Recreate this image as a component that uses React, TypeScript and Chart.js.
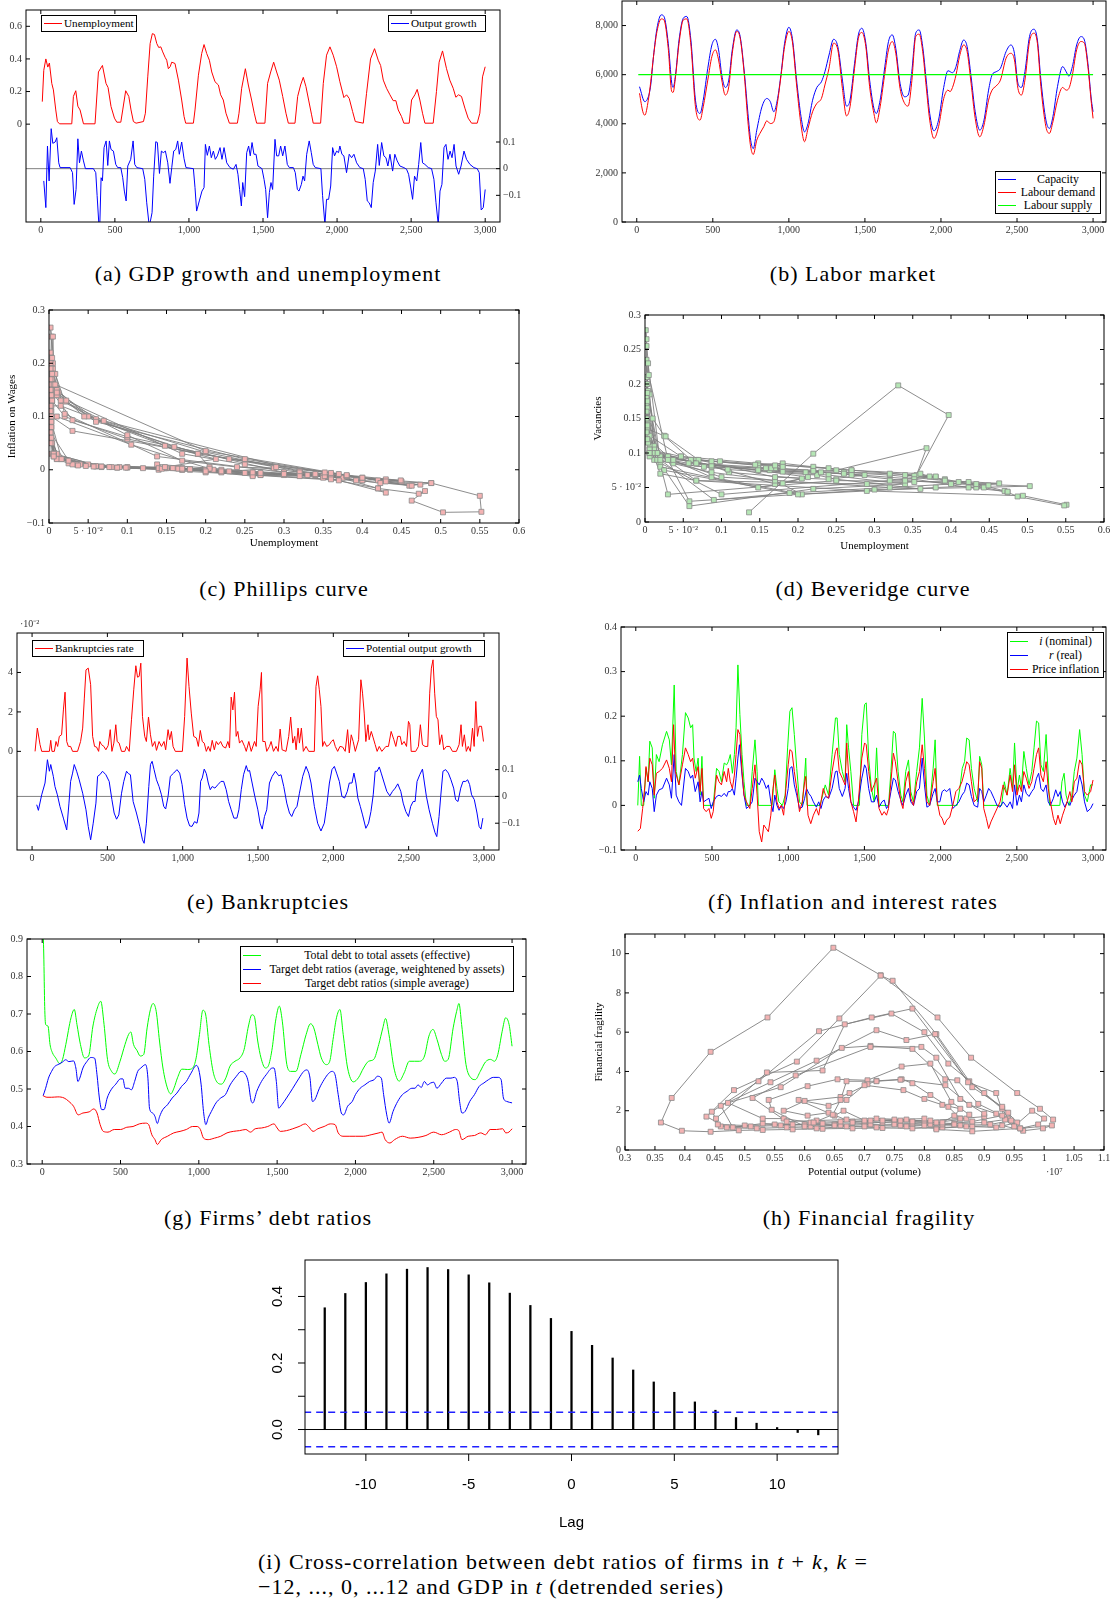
import React, { useEffect, useRef } from 'react';
import { Chart, registerables } from 'chart.js';
Chart.register(...registerables);

const SERIF = 'Liberation Serif';
const SANS = 'Liberation Sans';
const RED = '#ff0000';
const BLUE = '#0000ff';
const GREEN = '#00ff00';
const GREY = '#808080';
const TXT = '#333333';

// ---------- tick values ----------
const T_TICKS = [0, 500, 1000, 1500, 2000, 2500, 3000];
const A_YL_TICKS = [0, 0.2, 0.4, 0.6];
const A_YR_TICKS = [-0.1, 0, 0.1];
const B_Y_TICKS = [0, 2000, 4000, 6000, 8000];
const U_TICKS = [0, 0.05, 0.1, 0.15, 0.2, 0.25, 0.3, 0.35, 0.4, 0.45, 0.5, 0.55, 0.6];
const C_Y_TICKS = [-0.1, 0, 0.1, 0.2, 0.3];
const D_Y_TICKS = [0, 0.05, 0.1, 0.15, 0.2, 0.25, 0.3];
const E_YL_TICKS = [0, 2, 4];
const E_YR_TICKS = [-0.1, 0, 0.1];
const F_Y_TICKS = [-0.1, 0, 0.1, 0.2, 0.3, 0.4];
const G_Y_TICKS = [0.3, 0.4, 0.5, 0.6, 0.7, 0.8, 0.9];
const H_X_TICKS = [0.3, 0.35, 0.4, 0.45, 0.5, 0.55, 0.6, 0.65, 0.7, 0.75, 0.8, 0.85, 0.9, 0.95, 1, 1.05, 1.1];
const H_Y_TICKS = [0, 2, 4, 6, 8, 10];
const I_X_TICKS = [-10, -5, 0, 5, 10];
const I_Y_TICKS = [0, 0.1, 0.2, 0.3, 0.4];
const I_Y_LABELS = [0, 0.2, 0.4];

// ---------- (a) GDP growth and unemployment ----------
const A_UNEMP = [[10,0.138],[20,0.33],[34,0.40],[47,0.35],[58,0.375],[74,0.25],[85,0.21],[101,0.087],[112,0.016],[126,0.002],[209,0.002],[220,0.17],[236,0.205],[250,0.11],[265,0.087],[288,0.002],[366,0.002],[389,0.32],[416,0.36],[440,0.25],[454,0.225],[474,0.108],[497,0.037],[513,0.012],[540,0.012],[553,0.087],[573,0.205],[594,0.17],[609,0.087],[625,0.016],[643,0.006],[693,0.016],[706,0.067],[722,0.29],[738,0.494],[753,0.555],[767,0.55],[783,0.494],[796,0.47],[810,0.474],[823,0.443],[839,0.41],[850,0.392],[861,0.34],[873,0.352],[884,0.38],[906,0.372],[929,0.27],[951,0.148],[967,0.047],[978,0.006],[1030,0.006],[1041,0.087],[1064,0.30],[1086,0.433],[1102,0.488],[1120,0.433],[1138,0.392],[1154,0.32],[1176,0.26],[1199,0.24],[1214,0.18],[1232,0.148],[1250,0.067],[1273,0.006],[1327,0.006],[1338,0.067],[1356,0.22],[1381,0.34],[1401,0.24],[1423,0.148],[1441,0.067],[1457,0.006],[1513,0.006],[1531,0.25],[1552,0.32],[1572,0.38],[1592,0.32],[1610,0.27],[1633,0.17],[1655,0.067],[1671,0.006],[1716,0.006],[1734,0.17],[1754,0.24],[1772,0.287],[1790,0.23],[1808,0.148],[1828,0.057],[1839,0.006],[1889,0.006],[1907,0.25],[1929,0.423],[1952,0.474],[1974,0.423],[1997,0.352],[2019,0.26],[2046,0.163],[2064,0.18],[2082,0.158],[2105,0.077],[2123,0.016],[2177,0.006],[2199,0.189],[2226,0.40],[2253,0.463],[2278,0.392],[2294,0.36],[2312,0.27],[2334,0.22],[2357,0.18],[2379,0.144],[2397,0.144],[2413,0.087],[2435,0.047],[2451,0.006],[2487,0.006],[2503,0.148],[2525,0.18],[2541,0.213],[2559,0.148],[2577,0.067],[2593,0.006],[2649,0.006],[2671,0.2],[2689,0.38],[2712,0.449],[2739,0.34],[2761,0.27],[2784,0.22],[2802,0.165],[2820,0.18],[2840,0.17],[2863,0.098],[2885,0.037],[2908,0.006],[2946,0.006],[2964,0.067],[2982,0.29],[3000,0.352]];
const A_GROWTH = [[20,-0.046],[34,-0.146],[45,0.085],[56,-0.046],[70,0.15],[81,0.095],[97,0.1],[108,0.116],[121,0.022],[130,0.004],[198,0.004],[214,-0.015],[225,-0.134],[238,-0.078],[250,0.112],[261,0.022],[274,0.066],[288,0.029],[301,0],[355,0],[371,-0.015],[380,-0.1],[391,-0.2],[398,-0.215],[407,-0.034],[416,-0.046],[427,0.079],[441,0.104],[452,0.012],[463,0.104],[474,0.072],[490,0.066],[506,0.016],[519,0.004],[540,0.004],[553,-0.034],[564,-0.084],[576,-0.121],[587,0.01],[607,0.035],[623,0.104],[634,0.016],[648,0.004],[688,0],[702,-0.04],[715,-0.128],[731,-0.21],[740,-0.196],[751,-0.165],[762,-0.028],[776,0.101],[787,0.098],[801,-0.018],[814,0.066],[827,0.06],[841,0.066],[857,0.022],[872,-0.055],[884,0.004],[897,0.066],[911,0.072],[924,0.104],[935,0.054],[951,0.1],[967,0.037],[980,0.004],[1030,0],[1041,-0.071],[1052,-0.159],[1070,-0.121],[1088,-0.084],[1102,-0.071],[1111,0.091],[1124,0.05],[1138,0.085],[1151,0.041],[1165,0.066],[1178,0.035],[1192,0.048],[1210,0.079],[1223,0.035],[1237,0.079],[1255,0.022],[1277,0.004],[1300,-0.002],[1318,0.016],[1331,-0.021],[1342,-0.078],[1354,-0.14],[1363,-0.052],[1376,-0.105],[1390,0.06],[1403,0.085],[1414,0.048],[1426,0.098],[1439,0.054],[1453,0.054],[1466,0.01],[1493,0],[1507,-0.04],[1518,-0.078],[1531,-0.184],[1543,-0.09],[1554,-0.052],[1565,-0.078],[1581,0.11],[1592,0.048],[1606,0.048],[1619,0.085],[1633,0.048],[1648,0.085],[1664,0.016],[1678,0.004],[1705,0.004],[1718,-0.015],[1732,-0.078],[1743,-0.084],[1759,-0.059],[1770,-0.028],[1781,-0.046],[1795,0.054],[1812,0.104],[1826,0.06],[1839,0.016],[1853,0.004],[1891,0],[1902,-0.1],[1918,-0.21],[1929,-0.115],[1943,-0.115],[1957,-0.065],[1970,0.079],[1983,0.048],[1997,0.066],[2010,0.06],[2019,0.085],[2033,0.054],[2046,0.048],[2064,-0.015],[2082,0.054],[2098,0.041],[2114,0.054],[2132,0.022],[2154,0.004],[2177,0],[2190,-0.04],[2204,-0.121],[2217,-0.128],[2231,-0.146],[2244,-0.052],[2258,-0.009],[2274,0.091],[2285,0.012],[2301,0.098],[2316,0.048],[2330,0.041],[2343,0.01],[2357,0.054],[2375,-0.009],[2390,0.054],[2406,0.029],[2424,0.01],[2451,0.004],[2469,-0.002],[2483,-0.021],[2496,-0.065],[2510,-0.115],[2523,-0.028],[2538,-0.046],[2551,0.016],[2565,0.098],[2577,0.022],[2593,0.016],[2616,0.004],[2638,0],[2654,-0.04],[2668,-0.128],[2683,-0.21],[2695,-0.084],[2708,-0.059],[2722,0.079],[2735,0.091],[2749,0.035],[2763,0.066],[2776,0.041],[2790,0.091],[2803,0.01],[2821,-0.021],[2837,0.01],[2857,0.066],[2874,0.035],[2897,0.016],[2924,0.004],[2946,0],[2960,-0.015],[2973,-0.155],[2987,-0.146],[3000,-0.078]];

// ---------- (b) Labor market ----------
const B_CAP = [[18,5510],[53,4900],[76,5100],[92,5580],[110,6740],[133,7890],[161,8435],[179,8370],[207,7280],[230,5650],[239,5480],[255,5990],[278,7410],[306,8300],[329,8370],[356,7410],[386,4960],[416,4420],[437,4960],[467,6260],[494,7210],[517,7440],[538,7010],[559,5990],[582,5480],[605,5780],[628,7010],[657,7820],[680,7550],[708,6050],[731,4420],[749,3330],[766,2990],[789,3740],[823,4690],[855,5030],[878,4900],[901,4490],[926,5030],[949,6050],[972,7280],[1000,7930],[1023,7480],[1053,5650],[1080,4290],[1103,3670],[1126,4010],[1156,4960],[1184,5480],[1214,5710],[1237,6120],[1264,6800],[1294,7440],[1322,7140],[1352,5780],[1379,4720],[1402,4960],[1432,6460],[1457,7620],[1480,7890],[1506,7280],[1531,5780],[1559,4630],[1575,4420],[1600,4960],[1628,6190],[1655,7350],[1680,7620],[1703,7070],[1731,5650],[1761,5100],[1784,5170],[1807,6050],[1834,7690],[1857,7820],[1880,7140],[1903,5780],[1926,4420],[1954,3710],[1984,4150],[2018,5480],[2046,6160],[2076,6080],[2099,6330],[2122,6940],[2149,7410],[2172,7140],[2198,5920],[2225,4490],[2255,3740],[2283,4150],[2313,5370],[2336,5990],[2363,6120],[2391,6260],[2428,6940],[2460,7210],[2483,6870],[2506,5650],[2529,5480],[2552,6120],[2582,7550],[2612,7850],[2634,7410],[2657,5780],[2690,4150],[2713,3810],[2736,4290],[2766,5510],[2800,6330],[2823,6120],[2841,5940],[2864,6330],[2892,7210],[2920,7550],[2943,7410],[2966,6460],[2989,4960],[3000,4490]];
const B_DEM = [[18,5240],[40,4490],[53,4350],[76,4960],[92,5710],[110,6740],[133,7760],[161,8270],[179,8230],[207,7070],[230,5310],[239,5280],[255,5920],[278,7280],[306,8230],[329,8270],[356,7210],[386,4690],[416,4150],[437,4690],[467,5780],[494,6740],[517,7010],[538,6600],[559,5780],[582,5170],[605,5510],[628,6870],[657,7760],[680,7480],[708,5920],[731,4080],[749,3060],[766,2750],[789,3330],[810,3610],[835,3880],[855,4120],[878,4010],[901,4080],[926,4900],[949,5990],[972,7140],[1000,7760],[1023,7350],[1053,5440],[1080,3950],[1103,3270],[1126,3810],[1156,4490],[1184,4830],[1214,5030],[1237,5580],[1264,6260],[1294,7280],[1322,7010],[1352,5440],[1379,4320],[1402,4690],[1432,6260],[1457,7480],[1480,7720],[1506,7140],[1531,5510],[1559,4420],[1575,4040],[1600,4690],[1628,5920],[1655,7010],[1680,7350],[1703,6870],[1731,5440],[1761,4830],[1784,4720],[1807,5650],[1834,7550],[1857,7650],[1880,6940],[1903,5510],[1926,4150],[1954,3400],[1984,3880],[2018,5030],[2046,5370],[2060,5310],[2076,5480],[2099,5990],[2122,6740],[2149,7210],[2172,6940],[2198,5650],[2225,4220],[2255,3470],[2283,3950],[2313,4960],[2336,5370],[2363,5540],[2391,5780],[2428,6670],[2460,6870],[2483,6600],[2506,5440],[2529,5170],[2552,5780],[2582,7350],[2612,7690],[2634,7280],[2657,5510],[2690,3880],[2713,3610],[2736,4080],[2766,4960],[2800,5480],[2823,5370],[2841,5440],[2864,5990],[2892,7010],[2920,7350],[2943,7280],[2966,6330],[2989,4830],[3000,4220]];
const B_SUP = [[10,6000],[3000,6000]];

// ---------- (c) Phillips curve: [unemployment, wage inflation] ----------
const C_PHIL = [[0.138,0.01],[0.33,-0.01],[0.4,-0.02],[0.35,-0.012],[0.375,-0.015],[0.25,-0.006],[0.21,0.0],[0.087,0.004],[0.016,0.02],[0.003,0.03],[0.002,0.06],[0.003,0.1],[0.002,0.14],[0.004,0.17],[0.003,0.195],[0.006,0.18],
[0.012,0.145],[0.06,0.095],[0.16,0.043],[0.3,-0.005],[0.4,-0.02],[0.43,-0.018],[0.45,-0.022],[0.38,-0.012],[0.3,-0.01],[0.2,0.0],[0.12,0.003],[0.06,0.006],[0.025,0.012],[0.01,0.02],
[0.003,0.05],[0.002,0.1],[0.004,0.13],[0.02,0.1],[0.1,0.058],[0.19,0.03],[0.205,0.005],[0.17,0.0],[0.1,0.004],[0.04,0.01],[0.012,0.025],
[0.002,0.06],[0.003,0.11],[0.002,0.15],[0.005,0.19],[0.002,0.22],[0.008,0.18],[0.02,0.128],[0.07,0.092],[0.32,-0.003],[0.36,-0.01],[0.42,-0.035],[0.43,-0.043],[0.37,-0.02],[0.26,-0.01],[0.2,-0.005],[0.14,0.0],[0.08,0.005],[0.035,0.01],[0.015,0.02],
[0.004,0.05],[0.003,0.09],[0.01,0.1],[0.105,0.047],[0.205,0.002],[0.17,0.003],[0.09,0.005],[0.03,0.01],[0.01,0.03],
[0.002,0.07],[0.003,0.13],[0.002,0.18],[0.003,0.25],[0.002,0.267],[0.005,0.2],[0.02,0.105],[0.138,0.025],[0.3,-0.005],[0.488,-0.025],[0.55,-0.049],[0.552,-0.079],[0.503,-0.08],[0.463,-0.058],[0.48,-0.04],[0.472,-0.045],[0.42,-0.035],[0.35,-0.015],[0.38,-0.012],[0.37,-0.008],[0.34,-0.01],[0.27,-0.008],[0.15,0.003],[0.05,0.01],[0.006,0.025],
[0.003,0.08],[0.002,0.14],[0.005,0.25],[0.007,0.14],[0.03,0.093],[0.1,0.062],[0.23,0.02],[0.36,-0.006],[0.43,-0.022],[0.488,-0.025],[0.46,-0.03],[0.4,-0.015],[0.32,-0.003],[0.26,-0.012],[0.2,-0.003],[0.14,0.003],[0.1,0.005],[0.06,0.007],[0.025,0.017],
[0.002,0.07],[0.003,0.12],[0.002,0.16],[0.01,0.15],[0.05,0.1],[0.2,0.033],[0.34,-0.01],[0.3,-0.008],[0.22,0.0],[0.148,0.003],[0.067,0.006],[0.006,0.03],
[0.002,0.05],[0.004,0.13],[0.002,0.2],[0.006,0.16],[0.022,0.13],[0.17,0.03],[0.25,0.01],[0.32,-0.005],[0.38,-0.012],[0.32,-0.012],[0.27,-0.01],[0.17,0.0],[0.067,0.005],[0.01,0.02],
[0.003,0.06],[0.002,0.11],[0.003,0.15],[0.015,0.13],[0.1,0.065],[0.17,0.017],[0.24,0.005],[0.287,0.003],[0.23,-0.003],[0.148,0.003],[0.057,0.006],[0.006,0.03],
[0.002,0.08],[0.003,0.14],[0.002,0.19],[0.004,0.21],[0.01,0.14],[0.06,0.09],[0.25,0.02],[0.42,-0.02],[0.474,-0.028],[0.423,-0.025],[0.352,-0.012],[0.26,-0.005],[0.163,0.003],[0.18,0.001],[0.158,0.003],[0.077,0.005],[0.016,0.02],
[0.003,0.09],[0.002,0.15],[0.004,0.18],[0.01,0.145],[0.045,0.1],[0.19,0.03],[0.4,-0.015],[0.463,-0.03],[0.392,-0.02],[0.36,-0.018],[0.27,-0.01],[0.22,-0.005],[0.18,0.0],[0.144,0.002],[0.087,0.004],[0.047,0.007],[0.006,0.028],
[0.003,0.08],[0.002,0.12],[0.015,0.12],[0.148,0.045],[0.213,0.02],[0.148,0.005],[0.067,0.006],[0.006,0.03],
[0.002,0.07],[0.003,0.14],[0.002,0.17],[0.008,0.16],[0.2,0.035],[0.38,-0.01],[0.449,-0.02],[0.34,-0.008],[0.27,-0.006],[0.22,-0.003],[0.165,0.002],[0.18,0.001],[0.17,0.002],[0.098,0.004],[0.037,0.008],[0.006,0.025],
[0.003,0.06],[0.003,0.1],[0.03,0.073],[0.29,0.005],[0.352,-0.005]];

// ---------- (d) Beveridge curve: [unemployment, vacancies] ----------
const D_BEV = [[0.136,0.014],[0.22,0.099],[0.331,0.198],[0.397,0.155],[0.355,0.068],[0.368,0.107],[0.25,0.075],[0.21,0.072],[0.087,0.08],[0.016,0.1],[0.004,0.125],[0.002,0.17],[0.003,0.21],[0.002,0.235],[0.004,0.19],
[0.01,0.15],[0.025,0.125],[0.06,0.09],[0.17,0.055],[0.205,0.063],[0.11,0.072],[0.087,0.082],[0.03,0.095],[0.005,0.12],[0.003,0.165],[0.006,0.185],
[0.012,0.11],[0.02,0.095],[0.1,0.065],[0.32,0.05],[0.36,0.048],[0.25,0.062],[0.225,0.068],[0.108,0.076],[0.037,0.085],[0.012,0.105],[0.004,0.14],[0.002,0.18],
[0.015,0.1],[0.087,0.065],[0.205,0.04],[0.17,0.06],[0.087,0.072],[0.016,0.09],[0.006,0.11],[0.003,0.145],[0.002,0.2],
[0.016,0.1],[0.067,0.06],[0.29,0.045],[0.494,0.038],[0.551,0.025],[0.548,0.024],[0.487,0.037],[0.47,0.045],[0.474,0.043],[0.443,0.05],[0.41,0.058],[0.392,0.062],[0.34,0.068],[0.352,0.067],[0.38,0.065],[0.372,0.066],[0.27,0.075],[0.148,0.085],[0.047,0.095],[0.006,0.125],[0.002,0.21],[0.002,0.255],[0.001,0.278],[0.002,0.265],[0.005,0.213],
[0.03,0.09],[0.058,0.03],[0.3,0.047],[0.433,0.05],[0.503,0.052],[0.433,0.055],[0.392,0.06],[0.32,0.068],[0.26,0.072],[0.24,0.078],[0.18,0.082],[0.148,0.082],[0.067,0.09],[0.006,0.1],[0.002,0.15],[0.003,0.2],[0.004,0.23],
[0.02,0.085],[0.058,0.023],[0.22,0.048],[0.34,0.055],[0.24,0.068],[0.148,0.075],[0.067,0.085],[0.006,0.105],[0.002,0.14],[0.003,0.175],
[0.012,0.09],[0.1,0.04],[0.32,0.06],[0.38,0.066],[0.32,0.07],[0.27,0.072],[0.17,0.078],[0.067,0.085],[0.01,0.1],[0.003,0.135],
[0.027,0.124],[0.07,0.09],[0.17,0.065],[0.24,0.062],[0.287,0.068],[0.23,0.072],[0.148,0.078],[0.057,0.085],[0.006,0.095],[0.003,0.12],[0.002,0.16],
[0.03,0.04],[0.25,0.06],[0.423,0.058],[0.474,0.044],[0.423,0.05],[0.352,0.062],[0.26,0.07],[0.163,0.075],[0.18,0.073],[0.158,0.078],[0.077,0.08],[0.016,0.09],[0.004,0.115],[0.002,0.15],[0.003,0.187],
[0.02,0.09],[0.09,0.032],[0.189,0.042],[0.4,0.055],[0.463,0.056],[0.392,0.06],[0.36,0.07],[0.27,0.075],[0.22,0.08],[0.18,0.085],[0.144,0.083],[0.087,0.088],[0.047,0.095],[0.006,0.105],[0.003,0.14],
[0.02,0.08],[0.148,0.05],[0.18,0.056],[0.213,0.065],[0.148,0.075],[0.067,0.085],[0.006,0.1],[0.002,0.13],
[0.025,0.075],[0.2,0.04],[0.38,0.05],[0.449,0.053],[0.34,0.06],[0.27,0.068],[0.22,0.074],[0.165,0.078],[0.18,0.08],[0.17,0.082],[0.098,0.088],[0.037,0.09],[0.006,0.1],[0.003,0.12],
[0.02,0.07],[0.067,0.06],[0.29,0.055],[0.352,0.058]];

// ---------- (e) Bankruptcies ----------
const E_BANK = [[20,0],[35,1.18],[53,0.34],[64,0],[115,0],[124,0.56],[132,0],[148,0],[159,0.5],[170,0.25],[181,0.76],[196,0.84],[208,2.1],[219,3.0],[230,0.5],[241,0.25],[256,0.25],[269,0],[302,0],[322,0.5],[336,1.18],[347,2.7],[358,4.13],[373,4.22],[389,3.38],[402,0.76],[415,0.25],[428,0.22],[442,0],[450,0.5],[461,0.34],[477,0.25],[490,0.08],[505,0.29],[519,1.1],[530,0],[543,0.42],[556,1.35],[565,0.5],[578,0.42],[594,0],[616,0],[627,0.25],[645,0],[660,1.6],[675,3.12],[689,4.34],[700,3.76],[711,3.8],[722,4.47],[733,1.77],[748,0.76],[759,0.5],[773,1.74],[786,0.84],[799,0.25],[815,0.5],[826,0.05],[843,0.5],[859,0.25],[876,0.5],[887,0.08],[903,1.1],[914,0.59],[925,1.01],[936,0.25],[951,0],[998,0],[1013,1.77],[1029,4.73],[1042,3.29],[1057,1.94],[1073,0.76],[1091,0.68],[1104,0.25],[1117,1.06],[1130,0.5],[1143,0.42],[1157,0],[1170,0.25],[1183,0],[1196,0.56],[1210,0.08],[1223,0.5],[1236,0.34],[1252,0.5],[1267,0.25],[1285,0.17],[1300,0.5],[1311,0.17],[1322,2.75],[1333,2.1],[1344,3.0],[1355,0.76],[1366,1.01],[1377,0.42],[1393,0.56],[1411,0.25],[1422,0],[1439,0.5],[1455,0],[1477,0.5],[1488,0.25],[1501,2.28],[1514,3.12],[1523,4.0],[1532,0.5],[1547,0.5],[1558,0],[1576,0.25],[1587,0.5],[1603,0],[1620,0.25],[1634,0],[1647,1.13],[1660,0.08],[1686,0],[1704,0.76],[1717,1.74],[1731,0.42],[1744,0.76],[1753,0.08],[1766,1.18],[1775,0.42],[1788,1.18],[1801,0],[1819,0.25],[1837,0],[1874,0],[1885,3.29],[1896,3.83],[1907,3.12],[1918,2.28],[1929,0.25],[1940,0.5],[1956,0.25],[1974,0.34],[1987,0.5],[2000,0.59],[2013,0.25],[2029,0],[2044,0.25],[2062,0.22],[2079,0],[2095,1.1],[2106,-0.08],[2119,0.84],[2132,0.5],[2146,0],[2168,0.59],[2183,3.63],[2194,2.95],[2205,1.94],[2216,0.5],[2230,1.35],[2238,0.59],[2252,1.01],[2265,0.68],[2278,0.34],[2291,0],[2305,0.25],[2322,0],[2349,0.25],[2366,0.25],[2384,1.01],[2402,0.59],[2415,0.25],[2428,0.76],[2444,0.76],[2455,0.34],[2470,0.5],[2486,0.25],[2499,1.52],[2508,1.35],[2517,0],[2547,0],[2565,0.25],[2578,1.35],[2592,0.34],[2609,0.25],[2627,0.25],[2640,2.95],[2651,4.22],[2662,4.64],[2673,2.95],[2684,1.77],[2695,1.6],[2706,0.34],[2720,0.84],[2733,0.08],[2751,0.25],[2773,0.25],[2791,0],[2817,0],[2835,0.34],[2848,1.35],[2857,0.25],[2870,0.84],[2883,0],[2896,0.25],[2910,0],[2924,1.18],[2935,0.25],[2946,2.53],[2957,0.76],[2968,1.27],[2984,1.27],[2997,0.5]];
const E_POT = [[31,-0.031],[42,-0.052],[64,0.006],[86,0.05],[102,0.137],[115,0.094],[124,0.119],[141,0.075],[152,0.037],[168,0.006],[185,-0.037],[208,-0.081],[230,-0.125],[245,-0.025],[256,0.056],[269,0.087],[280,0.119],[296,0.094],[313,0.062],[336,0.012],[358,-0.05],[373,-0.112],[389,-0.162],[406,-0.1],[424,-0.025],[435,0.075],[450,0.081],[468,0.094],[490,0.081],[512,0.056],[530,-0.012],[545,-0.062],[561,-0.085],[576,-0.069],[594,0.012],[609,0.056],[627,0.094],[640,0.085],[653,0.081],[671,-0.019],[693,-0.062],[715,-0.112],[733,-0.162],[744,-0.175],[759,-0.1],[775,0.037],[786,0.119],[797,0.131],[810,0.1],[826,0.062],[843,0.037],[859,0.006],[874,-0.037],[887,-0.047],[903,0],[918,0.075],[940,0.087],[962,0.1],[980,0.087],[996,0.044],[1013,-0.031],[1029,-0.081],[1046,-0.11],[1062,-0.112],[1079,-0.094],[1095,-0.1],[1108,-0.062],[1119,0.056],[1130,0.069],[1143,0.102],[1157,0.085],[1170,0.05],[1183,0.025],[1196,0.037],[1214,0.031],[1234,0.044],[1254,0.056],[1272,0.056],[1289,0.025],[1305,-0.019],[1322,-0.05],[1340,-0.081],[1360,-0.081],[1373,-0.05],[1389,0.025],[1404,0.081],[1422,0.115],[1433,0.094],[1444,0.097],[1461,0.05],[1479,0],[1499,-0.05],[1514,-0.1],[1528,-0.122],[1543,-0.075],[1558,-0.05],[1576,0.05],[1594,0.075],[1616,0.094],[1638,0.077],[1653,0.081],[1671,0.037],[1691,-0.025],[1709,-0.062],[1724,-0.075],[1742,-0.05],[1759,-0.037],[1775,0.012],[1797,0.075],[1819,0.112],[1837,0.087],[1852,0.05],[1874,-0.037],[1896,-0.1],[1918,-0.129],[1940,-0.1],[1956,-0.037],[1974,0.05],[1991,0.1],[2007,0.112],[2022,0.087],[2040,0.056],[2057,0],[2075,-0.006],[2093,0.019],[2106,0.05],[2124,0.05],[2137,0.087],[2150,0.05],[2163,-0.006],[2179,-0.037],[2194,-0.069],[2216,-0.119],[2234,-0.1],[2250,-0.056],[2265,0.006],[2278,0.094],[2291,0.094],[2305,0.11],[2318,0.087],[2338,0.05],[2355,0.019],[2375,0.002],[2393,0.019],[2411,0.031],[2428,0.047],[2448,0.019],[2464,-0.025],[2481,-0.056],[2499,-0.075],[2514,-0.037],[2530,-0.019],[2543,-0.019],[2556,0.056],[2574,0.081],[2592,0.102],[2605,0.05],[2618,0],[2636,-0.05],[2658,-0.1],[2675,-0.135],[2687,-0.15],[2702,-0.075],[2713,0],[2728,0.094],[2746,0.1],[2764,0.087],[2781,0.062],[2799,0.031],[2812,-0.012],[2828,-0.019],[2846,0.031],[2861,0.056],[2879,0.056],[2892,0.062],[2905,0.044],[2918,0.006],[2936,-0.012],[2954,-0.062],[2968,-0.112],[2980,-0.122],[2993,-0.081]];

// ---------- (f) Inflation and interest rates ----------
const F_NOM = [[13,0],[25,0.11],[36,0],[52,0],[67,0.083],[81,0.053],[92,0.144],[108,0.129],[121,0.016],[135,0.114],[153,0.098],[175,0.136],[202,0.166],[220,0.147],[234,0.091],[252,0.27],[265,0.076],[283,0.046],[306,0.114],[326,0.208],[344,0.196],[360,0.174],[373,0.181],[382,0.106],[396,0.076],[409,0.106],[422,0.023],[434,0.11],[445,0],[508,0],[530,0.083],[546,0.076],[562,0.053],[580,0.095],[596,0.091],[607,0.098],[620,0.114],[634,0.072],[647,0.114],[658,0.174],[670,0.315],[683,0.204],[697,0.114],[710,0.053],[726,0],[748,0],[764,0.076],[782,0.147],[796,0.076],[804,0],[894,0],[912,0.08],[926,0.038],[939,0.008],[962,0],[980,0.023],[996,0.129],[1011,0.211],[1025,0.219],[1040,0.159],[1056,0.083],[1074,0.008],[1092,0],[1108,0.068],[1115,0.106],[1124,0],[1209,0],[1243,0.046],[1265,0.023],[1288,0.114],[1310,0.196],[1321,0.196],[1335,0.114],[1355,0.076],[1373,0.053],[1384,0.181],[1396,0.129],[1411,0.076],[1429,0],[1467,0],[1483,0.159],[1501,0.226],[1512,0.23],[1528,0.106],[1546,0.038],[1564,0.008],[1580,0.129],[1596,0],[1658,0],[1674,0.076],[1690,0.166],[1703,0.162],[1721,0.076],[1739,0.023],[1753,0.008],[1771,0.076],[1789,0.102],[1804,0.031],[1822,0.008],[1843,0.076],[1861,0.129],[1879,0.24],[1894,0.151],[1910,0.023],[1928,0],[1951,0.083],[1964,0.147],[1978,0],[2108,0],[2126,0.038],[2142,0.083],[2157,0.098],[2171,0.151],[2187,0.147],[2202,0.083],[2220,0.038],[2243,0.008],[2256,0.11],[2270,0.091],[2283,0],[2400,0],[2418,0.053],[2436,0.023],[2456,0.083],[2472,0.038],[2485,0.14],[2501,0.031],[2517,0.068],[2530,0.038],[2546,0.121],[2562,0.083],[2580,0.046],[2598,0.076],[2613,0.129],[2629,0.189],[2643,0.185],[2658,0.091],[2674,0.076],[2692,0.159],[2706,0.068],[2715,0],[2782,0],[2796,0.053],[2810,0.072],[2823,0.023],[2841,0],[2861,0.023],[2877,0.076],[2894,0.106],[2912,0.17],[2928,0.114],[2944,0.023],[2962,0.008],[2984,0.046],[3000,0.046]];
const F_REAL = [[13,0.053],[25,0.068],[36,0.038],[52,0.008],[67,0.031],[81,0.023],[92,0.053],[108,0.038],[121,-0.014],[135,0.023],[153,0.035],[175,0.038],[202,0.061],[220,0.046],[234,0.016],[252,0.114],[265,0.023],[283,0.008],[300,0],[326,0.083],[344,0.076],[360,0.061],[373,0.068],[390,0.031],[409,0.053],[422,0.008],[434,0.031],[445,0.008],[462,0.012],[480,0.016],[495,-0.007],[508,0.008],[530,0.02],[546,0.023],[562,0.02],[580,0.027],[596,0.02],[607,0.031],[620,0.031],[634,0.038],[647,0.023],[658,0.061],[670,0.106],[680,0.136],[697,0.068],[710,0.023],[726,-0.007],[748,0],[764,0.008],[782,0.061],[796,0.053],[810,0.046],[826,0.061],[840,0.053],[856,0.038],[870,0.046],[886,0.008],[900,-0.014],[912,0.023],[926,0],[940,-0.011],[955,0],[970,-0.007],[985,0.008],[1000,0.038],[1011,0.083],[1025,0.087],[1040,0.046],[1056,0.023],[1074,-0.007],[1092,-0.004],[1108,0.016],[1120,0.038],[1135,0.027],[1150,0.02],[1165,0.008],[1185,-0.004],[1200,0.008],[1215,-0.007],[1230,0.012],[1245,0.02],[1265,0.016],[1288,0.038],[1310,0.076],[1321,0.077],[1335,0.038],[1355,0.02],[1373,0.038],[1384,0.072],[1396,0.038],[1411,0.008],[1429,-0.004],[1445,-0.011],[1460,0.008],[1483,0.061],[1501,0.091],[1512,0.083],[1528,0.038],[1546,0.008],[1564,0.008],[1580,0.023],[1596,-0.004],[1615,0.008],[1630,0.012],[1645,-0.007],[1658,0],[1674,0.031],[1690,0.061],[1703,0.057],[1721,0.031],[1739,0.012],[1753,0],[1771,0.023],[1789,0.038],[1804,0.008],[1822,0],[1843,0.031],[1861,0.038],[1879,0.106],[1894,0.046],[1910,-0.004],[1928,0],[1951,0.027],[1964,0.038],[1978,0.008],[1995,0.008],[2010,0.031],[2025,0.035],[2040,0.031],[2060,0.038],[2080,-0.007],[2100,0],[2120,0.008],[2140,0.023],[2157,0.031],[2171,0.05],[2187,0.046],[2202,0.02],[2220,0],[2243,-0.004],[2256,0.038],[2270,0.031],[2283,0.008],[2300,0.023],[2315,0.038],[2330,0.031],[2350,0.016],[2370,0],[2390,-0.004],[2410,0.008],[2436,-0.004],[2456,0.008],[2472,-0.007],[2485,0.046],[2501,0],[2517,0.023],[2530,0.008],[2546,0.046],[2562,0.027],[2580,0.02],[2598,0.031],[2613,0.038],[2629,0.061],[2643,0.072],[2658,0.038],[2674,0.031],[2692,0.046],[2706,0.008],[2720,0],[2740,0.016],[2755,0.035],[2770,0.02],[2785,0.031],[2800,0.008],[2815,-0.004],[2830,0.008],[2848,0],[2861,0.012],[2877,0.023],[2894,0.031],[2912,0.068],[2928,0.046],[2944,0.008],[2962,-0.014],[2984,-0.007],[3000,0.004]];
const F_INFL = [[13,-0.058],[30,-0.052],[45,-0.007],[60,0.046],[67,0.087],[81,0.053],[92,0.106],[108,0.091],[121,0.023],[135,0.072],[153,0.076],[175,0.083],[202,0.102],[220,0.083],[234,0.053],[248,0.181],[260,0.076],[283,0.046],[306,0.091],[326,0.129],[344,0.114],[360,0.098],[373,0.106],[390,0.061],[409,0.087],[422,0.031],[434,0.083],[445,-0.007],[462,-0.014],[480,-0.007],[495,-0.029],[508,-0.014],[530,0.068],[546,0.053],[562,0.046],[580,0.076],[596,0.053],[607,0.083],[620,0.053],[634,0.038],[647,0.068],[658,0.114],[670,0.17],[683,0.159],[697,0.076],[710,0.023],[726,0.008],[748,-0.007],[764,0.038],[782,0.091],[796,0.023],[810,-0.059],[826,-0.082],[840,-0.044],[856,-0.052],[870,-0.059],[886,-0.022],[900,0.038],[912,0.068],[926,0.008],[940,-0.007],[955,0],[970,-0.022],[985,0.038],[1000,0.091],[1011,0.125],[1025,0.121],[1040,0.076],[1056,0.038],[1074,-0.014],[1092,0.008],[1108,0.053],[1115,0.065],[1130,-0.022],[1148,-0.041],[1165,-0.022],[1185,-0.007],[1200,-0.022],[1215,0.008],[1230,0.038],[1245,0.023],[1265,0.016],[1288,0.076],[1310,0.121],[1321,0.129],[1335,0.076],[1355,0.061],[1373,0.046],[1384,0.14],[1396,0.068],[1411,0.008],[1429,-0.014],[1445,-0.037],[1460,0.008],[1483,0.106],[1501,0.14],[1512,0.136],[1528,0.076],[1546,0.031],[1564,0.046],[1580,0.061],[1596,-0.007],[1615,-0.022],[1630,-0.014],[1645,-0.022],[1658,-0.007],[1674,0.053],[1690,0.117],[1703,0.098],[1721,0.053],[1739,0.008],[1753,-0.007],[1771,0.053],[1789,0.076],[1804,0.016],[1822,0],[1843,0.053],[1861,0.076],[1879,0.136],[1894,0.083],[1910,0.008],[1928,0],[1951,0.053],[1964,0.083],[1978,0.008],[1995,-0.022],[2010,-0.029],[2025,-0.044],[2040,-0.033],[2060,-0.026],[2080,0],[2100,0.031],[2120,0.038],[2140,0.053],[2157,0.076],[2171,0.098],[2187,0.091],[2202,0.053],[2220,0.008],[2243,0.016],[2256,0.098],[2270,0.083],[2283,-0.007],[2300,-0.029],[2315,-0.052],[2330,-0.037],[2350,-0.022],[2370,-0.007],[2390,0.008],[2410,0.046],[2436,0.023],[2456,0.068],[2472,0.031],[2485,0.091],[2501,0.023],[2517,0.046],[2530,0.031],[2546,0.076],[2562,0.061],[2580,0.038],[2598,0.053],[2613,0.083],[2629,0.114],[2643,0.129],[2658,0.068],[2674,0.053],[2692,0.098],[2706,0.038],[2720,0.008],[2740,-0.029],[2755,-0.044],[2770,-0.022],[2785,-0.041],[2800,-0.022],[2815,-0.007],[2830,0.008],[2848,0.031],[2861,0.008],[2877,0.053],[2894,0.061],[2912,0.102],[2928,0.091],[2944,0.031],[2962,0.023],[2984,0.031],[3000,0.057]];

// ---------- (g) Firms' debt ratios ----------
const G_EFF = [[4,0.95],[10,0.86],[16,0.72],[22,0.672],[37,0.668],[50,0.619],[65,0.597],[86,0.583],[114,0.567],[130,0.579],[151,0.619],[184,0.69],[205,0.712],[222,0.672],[244,0.619],[270,0.583],[296,0.588],[324,0.668],[352,0.716],[374,0.734],[395,0.672],[417,0.579],[443,0.547],[464,0.54],[497,0.574],[529,0.619],[551,0.645],[566,0.652],[583,0.619],[605,0.603],[626,0.588],[648,0.592],[670,0.663],[691,0.712],[708,0.728],[728,0.707],[749,0.628],[771,0.556],[799,0.503],[821,0.487],[842,0.503],[864,0.53],[892,0.553],[929,0.552],[961,0.556],[983,0.583],[1004,0.645],[1026,0.71],[1043,0.7],[1065,0.619],[1091,0.547],[1112,0.521],[1145,0.513],[1173,0.53],[1199,0.561],[1231,0.574],[1263,0.583],[1289,0.605],[1317,0.668],[1339,0.698],[1354,0.694],[1376,0.628],[1397,0.583],[1425,0.556],[1447,0.565],[1469,0.61],[1490,0.681],[1514,0.721],[1533,0.681],[1562,0.565],[1587,0.547],[1620,0.547],[1652,0.592],[1685,0.645],[1713,0.674],[1734,0.663],[1760,0.619],[1782,0.583],[1814,0.565],[1836,0.574],[1857,0.632],[1879,0.69],[1901,0.712],[1922,0.645],[1950,0.556],[1987,0.519],[2019,0.53],[2052,0.556],[2084,0.574],[2117,0.579],[2149,0.619],[2175,0.663],[2192,0.688],[2214,0.645],[2246,0.556],[2279,0.521],[2311,0.543],[2344,0.574],[2376,0.574],[2408,0.574],[2441,0.588],[2469,0.641],[2495,0.659],[2521,0.632],[2549,0.592],[2570,0.574],[2592,0.579],[2624,0.663],[2646,0.707],[2661,0.728],[2678,0.672],[2706,0.565],[2737,0.53],[2765,0.525],[2797,0.547],[2830,0.572],[2862,0.579],[2888,0.574],[2909,0.592],[2937,0.654],[2959,0.69],[2981,0.672],[3000,0.614]];
const G_WTD = [[6,0.482],[22,0.502],[40,0.529],[60,0.547],[80,0.56],[100,0.565],[130,0.572],[150,0.578],[170,0.573],[200,0.575],[215,0.556],[228,0.52],[240,0.529],[260,0.556],[285,0.573],[310,0.584],[335,0.582],[350,0.538],[365,0.476],[380,0.445],[395,0.445],[415,0.476],[440,0.498],[470,0.513],[500,0.527],[515,0.527],[530,0.502],[550,0.502],[570,0.498],[590,0.52],[610,0.547],[630,0.556],[660,0.565],[675,0.529],[685,0.449],[705,0.436],[720,0.427],[735,0.408],[750,0.427],[770,0.445],[800,0.458],[830,0.476],[860,0.489],[890,0.507],[920,0.52],[950,0.542],[985,0.563],[1000,0.551],[1015,0.511],[1030,0.44],[1045,0.405],[1060,0.423],[1080,0.44],[1110,0.463],[1140,0.476],[1170,0.485],[1200,0.511],[1240,0.534],[1270,0.547],[1300,0.538],[1315,0.52],[1335,0.467],[1345,0.463],[1370,0.494],[1400,0.52],[1430,0.538],[1470,0.556],[1480,0.556],[1495,0.52],[1510,0.449],[1530,0.458],[1560,0.476],[1600,0.502],[1640,0.529],[1670,0.547],[1690,0.551],[1710,0.529],[1725,0.467],[1740,0.471],[1770,0.502],[1800,0.525],[1830,0.542],[1850,0.547],[1870,0.538],[1890,0.485],[1910,0.436],[1925,0.431],[1950,0.454],[1980,0.467],[2000,0.485],[2030,0.502],[2060,0.511],[2090,0.52],[2120,0.525],[2140,0.534],[2165,0.529],[2180,0.485],[2200,0.431],[2215,0.409],[2240,0.44],[2270,0.467],[2300,0.485],[2330,0.494],[2360,0.502],[2380,0.502],[2400,0.511],[2420,0.504],[2440,0.52],[2460,0.511],[2480,0.516],[2500,0.518],[2520,0.502],[2550,0.516],[2580,0.529],[2610,0.529],[2630,0.531],[2650,0.52],[2665,0.467],[2680,0.436],[2700,0.44],[2730,0.467],[2760,0.485],[2790,0.507],[2820,0.516],[2850,0.525],[2880,0.531],[2910,0.531],[2930,0.525],[2945,0.476],[2965,0.467],[3000,0.463]];
const G_AVG = [[6,0.482],[30,0.478],[60,0.478],[100,0.479],[140,0.476],[170,0.467],[200,0.454],[230,0.431],[260,0.436],[300,0.439],[330,0.447],[350,0.436],[370,0.405],[390,0.387],[420,0.385],[460,0.392],[500,0.392],[540,0.398],[580,0.4],[620,0.407],[660,0.409],[680,0.405],[700,0.378],[720,0.365],[735,0.352],[760,0.365],[800,0.374],[840,0.383],[880,0.387],[920,0.392],[960,0.4],[990,0.4],[1010,0.392],[1030,0.369],[1060,0.365],[1100,0.369],[1140,0.374],[1180,0.383],[1220,0.387],[1260,0.389],[1300,0.392],[1330,0.385],[1360,0.394],[1400,0.396],[1440,0.4],[1480,0.407],[1500,0.396],[1520,0.387],[1560,0.389],[1600,0.394],[1640,0.4],[1680,0.407],[1700,0.4],[1730,0.387],[1760,0.394],[1800,0.4],[1840,0.407],[1870,0.405],[1890,0.383],[1920,0.374],[1960,0.374],[2000,0.374],[2050,0.374],[2100,0.378],[2150,0.383],[2170,0.385],[2190,0.365],[2220,0.356],[2250,0.365],[2300,0.374],[2350,0.369],[2400,0.371],[2450,0.376],[2500,0.385],[2550,0.378],[2600,0.385],[2640,0.392],[2660,0.389],[2680,0.365],[2720,0.374],[2760,0.376],[2800,0.383],[2830,0.378],[2860,0.392],[2900,0.392],[2940,0.394],[2960,0.383],[2980,0.385],[3000,0.394]];

// ---------- (h) Financial fragility: [potential output (x 10^7), fragility] ----------
const H_FRAG = [[1.015,1.55],[0.993,2.1],[0.955,2.9],[0.878,4.7],[0.822,6.75],[0.727,8.9],[0.648,10.3],[0.538,6.75],[0.443,5.0],[0.378,2.65],[0.36,1.4],[0.395,0.98],[0.443,0.93],[0.49,1.0],[0.53,1.02],[0.58,1.05],[0.63,1.08],[0.68,1.1],[0.73,1.12],[0.78,1.1],[0.83,1.15],[0.88,1.2],[0.93,1.25],[0.965,0.98],[0.998,1.1],[1.013,1.25],
[0.96,1.1],[0.94,1.6],[0.93,2.1],[0.875,3.5],[0.82,5.9],[0.747,8.62],[0.727,8.88],[0.658,6.7],[0.587,4.5],[0.482,3.05],[0.436,1.7],[0.47,1.15],[0.52,1.1],[0.57,1.15],[0.62,1.1],[0.67,1.2],[0.72,1.15],[0.77,1.2],[0.82,1.1],[0.87,1.2],[0.92,1.15],
[0.955,1.4],[0.93,2.2],[0.88,3.2],[0.78,7.2],[0.712,6.75],[0.624,6.05],[0.523,3.5],[0.445,1.95],[0.46,1.2],[0.51,1.2],[0.56,1.25],[0.61,1.2],[0.66,1.25],[0.71,1.3],[0.76,1.25],[0.81,1.3],[0.86,1.25],[0.91,1.3],
[0.945,1.5],[0.94,1.9],[0.9,2.9],[0.84,4.4],[0.8,6.0],[0.745,6.95],[0.667,6.4],[0.63,4.05],[0.537,3.95],[0.452,1.6],[0.455,1.3],[0.5,1.25],[0.55,1.3],[0.6,1.3],[0.65,1.3],[0.7,1.35],[0.75,1.45],[0.8,1.4],[0.85,1.35],[0.9,1.4],
[0.935,1.55],[0.92,2.9],[0.873,3.45],[0.818,5.9],[0.77,5.6],[0.72,6.1],[0.62,4.55],[0.543,3.45],[0.46,2.25],[0.48,1.15],[0.53,1.35],[0.58,1.3],[0.63,1.35],[0.68,1.45],[0.73,1.4],[0.78,1.35],[0.83,1.3],[0.88,1.45],
[0.93,1.75],[0.89,2.35],[0.855,3.55],[0.835,3.6],[0.78,5.15],[0.71,5.3],[0.662,5.2],[0.56,3.2],[0.472,2.4],[0.53,1.6],[0.565,1.6],[0.61,1.4],[0.66,1.45],[0.71,1.5],[0.76,1.5],[0.81,1.5],[0.86,1.6],[0.9,1.7],
[0.9,1.85],[0.86,2.6],[0.82,4.7],[0.795,5.25],[0.71,5.25],[0.585,3.8],[0.513,2.65],[0.57,1.45],[0.62,1.5],[0.67,1.55],[0.72,1.6],[0.77,1.55],[0.82,1.4],[0.87,1.6],
[0.875,1.8],[0.845,2.45],[0.81,4.4],[0.762,4.25],[0.705,3.55],[0.655,3.6],[0.605,3.25],[0.54,2.55],[0.545,2.05],[0.6,1.2],[0.65,1.25],[0.7,1.2],[0.75,1.3],[0.8,1.25],[0.85,1.3],
[0.86,1.6],[0.84,2.2],[0.81,2.8],[0.78,3.4],[0.762,3.6],[0.72,3.52],[0.705,3.35],[0.675,2.9],[0.66,2.7],[0.6,2.5],[0.565,2.0],[0.605,1.75],[0.64,1.9],[0.68,1.4],[0.73,1.5],[0.78,1.45],[0.83,1.4],
[0.85,1.75],[0.86,2.1],[0.83,2.3],[0.8,2.6],[0.765,3.05],[0.7,3.3],[0.67,2.55],[0.64,2.25],[0.59,2.55],[0.65,1.75],[0.665,2.0],[0.7,1.5],[0.75,1.55],[0.8,1.6],
[0.82,1.05],[0.88,0.95],[0.96,1.1],[0.99,1.3],[1.0,1.6],[0.98,2.0],[0.95,1.2],[0.92,1.85],[0.875,2.3],[0.835,3.3],[0.76,3.58],[0.72,3.5],[0.67,3.5],[0.66,2.55],[0.647,1.8],[0.615,1.4]];

// ---------- (i) Cross-correlation ----------
const I_LAGS = [-12,-11,-10,-9,-8,-7,-6,-5,-4,-3,-2,-1,0,1,2,3,4,5,6,7,8,9,10,11,12];
const I_CCF = [0.366,0.409,0.442,0.468,0.482,0.487,0.481,0.465,0.441,0.41,0.373,0.334,0.295,0.253,0.215,0.179,0.143,0.112,0.083,0.058,0.036,0.019,0.006,-0.009,-0.016];
const I_CI = 0.052;

// ---------- helpers ----------
const P = (a: number[][]) => a.map(([x, y]) => ({ x, y }));
const thousands = (v: number) => Math.round(v).toLocaleString('en-US');
const dec = (v: number) => String(parseFloat(Number(v).toFixed(4))).replace('-', '\u2212');
const sci = (v: number) => (Math.abs(v - 0.05) < 1e-9 ? '5 \u00b7 10\u207b\u00b2' : dec(v));

type Fr = { L: number; T: number; R: number; B: number; lw: number; rw: number; pt: number; bh: number };
const boxOf = (f: Fr) => ({ l: f.L - f.lw, t: f.T - f.pt, w: f.R - f.L + f.lw + f.rw, h: f.B - f.T + f.pt + f.bh });

function framePlugin(o: any) {
  return {
    id: 'frame',
    afterDatasetsDraw(chart: any) {
      const { ctx, chartArea: a } = chart;
      ctx.save();
      ctx.strokeStyle = '#000';
      ctx.lineWidth = o.lw || 1;
      ctx.strokeRect(a.left, a.top, a.right - a.left, a.bottom - a.top);
      for (const m of o.marks || []) {
        const sc = chart.scales[m.scale];
        const vals: number[] = m.values || sc.ticks.map((t: any) => t.value);
        const len = m.len;
        ctx.beginPath();
        for (const v of vals) {
          const p = sc.getPixelForValue(v);
          if (m.side === 'bottom') { ctx.moveTo(p, a.bottom); ctx.lineTo(p, a.bottom + (m.out ? len : -len)); }
          if (m.side === 'top') { ctx.moveTo(p, a.top); ctx.lineTo(p, a.top + len); }
          if (m.side === 'left') { ctx.moveTo(a.left, p); ctx.lineTo(a.left + (m.out ? -len : len), p); }
          if (m.side === 'right') { ctx.moveTo(a.right, p); ctx.lineTo(a.right - len, p); }
        }
        ctx.stroke();
      }
      if (o.rot) {
        const r = o.rot;
        const sc = chart.scales[r.scale];
        ctx.fillStyle = r.color;
        ctx.font = r.font;
        ctx.textAlign = 'center';
        ctx.textBaseline = 'middle';
        r.values.forEach((v: number, i: number) => {
          const p = sc.getPixelForValue(v);
          ctx.save();
          ctx.translate(a.left - r.offset, p);
          ctx.rotate(-Math.PI / 2);
          ctx.fillText(r.labels[i], 0, 0);
          ctx.restore();
        });
      }
      ctx.restore();
    },
  };
}

const tickFont = { family: SERIF, size: 10 };

function xAx(f: Fr, min: number, max: number, ticks: number[], fmt: (v: number) => string, title?: any) {
  const o: any = {
    type: 'linear', position: 'bottom', min, max,
    grid: { display: false, drawTicks: false }, border: { display: false },
    ticks: { font: tickFont, color: TXT, padding: 2, maxRotation: 0, minRotation: 0, autoSkip: false, callback: (v: number) => fmt(v) },
    afterBuildTicks: (s: any) => { s.ticks = ticks.map((value) => ({ value })); },
    afterFit: (s: any) => { s.height = f.bh; },
  };
  if (title) o.title = { display: true, text: title.text, font: { family: SERIF, size: 11 }, color: '#000', padding: { top: 0, bottom: title.pb } };
  return o;
}

function yAx(f: Fr, pos: string, min: number, max: number, ticks: number[], fmt: (v: number) => string, title?: any) {
  const o: any = {
    type: 'linear', axis: 'y', position: pos, min, max,
    grid: { display: false, drawTicks: false }, border: { display: false },
    ticks: { font: tickFont, color: TXT, padding: pos === 'left' ? 4 : 3, autoSkip: false, callback: (v: number) => fmt(v) },
    afterBuildTicks: (s: any) => { s.ticks = ticks.map((value) => ({ value })); },
    afterFit: (s: any) => { s.width = pos === 'left' ? f.lw : f.rw; },
  };
  if (title) o.title = { display: true, text: title.text, font: { family: SERIF, size: 11 }, color: '#000', padding: { top: title.pt, bottom: 0 } };
  return o;
}

function line(data: number[][], color: string, yAxisID = 'y', extra: any = {}) {
  return { data: P(data), borderColor: color, backgroundColor: color, borderWidth: 1, pointRadius: 0, showLine: true, fill: false, tension: 0, yAxisID, ...extra };
}

function scatterPath(data: number[][], fill: string) {
  return {
    data: P(data), showLine: true, borderColor: GREY, borderWidth: 0.9, tension: 0,
    pointStyle: 'rect', pointRadius: 3.5, pointBackgroundColor: fill, pointBorderColor: '#8a8a8a', pointBorderWidth: 0.8,
  };
}

function cfg(f: Fr, datasets: any[], scales: any, frame: any, hasRight: boolean, type = 'scatter') {
  const n = datasets.length;
  return {
    type,
    data: { datasets: datasets.map((d, i) => ({ ...d, order: n - i })) },
    options: {
      animation: false, responsive: false, events: [],
      layout: { padding: { top: f.pt, left: 0, right: hasRight ? 0 : f.rw, bottom: 0 } },
      plugins: { legend: { display: false }, tooltip: { enabled: false } },
      scales,
    },
    plugins: [framePlugin(frame)],
  };
}

const boxMarks = (xs: string, ys: string) => [
  { scale: xs, side: 'bottom', len: 4 }, { scale: xs, side: 'top', len: 4 },
  { scale: ys, side: 'left', len: 4 }, { scale: ys, side: 'right', len: 4 },
];

// ---------- frames ----------
const FA: Fr = { L: 26, T: 10, R: 500, B: 222, lw: 26, rw: 30, pt: 12, bh: 22 };
const FB: Fr = { L: 622, T: 1, R: 1106, B: 222, lw: 32, rw: 8, pt: 12, bh: 22 };
const FC: Fr = { L: 49, T: 310, R: 519, B: 523, lw: 45, rw: 12, pt: 12, bh: 30 };
const FD: Fr = { L: 645, T: 315, R: 1104, B: 522, lw: 54, rw: 12, pt: 12, bh: 32 };
const FE: Fr = { L: 17, T: 633, R: 499, B: 850, lw: 17, rw: 30, pt: 12, bh: 22 };
const FF: Fr = { L: 621, T: 627, R: 1106, B: 850, lw: 32, rw: 8, pt: 12, bh: 22 };
const FG: Fr = { L: 27, T: 939, R: 526, B: 1164, lw: 27, rw: 10, pt: 12, bh: 22 };
const FH: Fr = { L: 625, T: 934, R: 1104, B: 1150, lw: 32, rw: 12, pt: 12, bh: 30 };
const FI: Fr = { L: 305, T: 1260, R: 838, B: 1454, lw: 45, rw: 12, pt: 12, bh: 80 };

const buildA = () => cfg(FA, [
  line([[-100, 0], [3100, 0]], GREY, 'yR'),
  line(A_UNEMP, RED, 'yL'),
  line(A_GROWTH, BLUE, 'yR'),
], {
  x: xAx(FA, -100, 3100, T_TICKS, thousands),
  yL: yAx(FA, 'left', -0.6, 0.7, A_YL_TICKS, dec),
  yR: yAx(FA, 'right', -0.2, 0.595, A_YR_TICKS, dec),
}, { marks: [{ scale: 'x', side: 'bottom', len: 4 }, { scale: 'x', side: 'top', len: 4 }, { scale: 'yL', side: 'left', len: 4 }, { scale: 'yR', side: 'right', len: 4 }] }, true);

const buildB = () => cfg(FB, [
  line(B_CAP, BLUE, 'y', { cubicInterpolationMode: 'monotone' }),
  line(B_DEM, RED, 'y', { cubicInterpolationMode: 'monotone' }),
  line(B_SUP, GREEN, 'y', { borderWidth: 1.2 }),
], {
  x: xAx(FB, -97, 3085, T_TICKS, thousands),
  y: yAx(FB, 'left', 0, 9000, B_Y_TICKS, thousands),
}, { marks: boxMarks('x', 'y') }, false);

const buildC = () => cfg(FC, [scatterPath(C_PHIL, '#f4b3b3')], {
  x: xAx(FC, 0, 0.6, U_TICKS, sci, { text: 'Unemployment', pb: 3.4 }),
  y: yAx(FC, 'left', -0.1, 0.3, C_Y_TICKS, dec, { text: 'Inflation on Wages', pt: 1.4 }),
}, { marks: boxMarks('x', 'y') }, false);

const buildD = () => cfg(FD, [scatterPath(D_BEV, '#b5e6b5')], {
  x: xAx(FD, 0, 0.6, U_TICKS, sci, { text: 'Unemployment', pb: 1.7 }),
  y: yAx(FD, 'left', 0, 0.3, D_Y_TICKS, sci, { text: 'Vacancies', pt: 0.1 }),
}, { marks: boxMarks('x', 'y') }, false);

const buildE = () => cfg(FE, [
  line([[-100, 0], [3100, 0]], GREY, 'yR'),
  line(E_BANK, RED, 'yL'),
  line(E_POT, BLUE, 'yR'),
], {
  x: xAx(FE, -100, 3100, T_TICKS, thousands),
  yL: yAx(FE, 'left', -5, 6, E_YL_TICKS, dec),
  yR: yAx(FE, 'right', -0.2, 0.61, E_YR_TICKS, dec),
}, { marks: [{ scale: 'x', side: 'bottom', len: 4 }, { scale: 'x', side: 'top', len: 4 }, { scale: 'yL', side: 'left', len: 4 }, { scale: 'yR', side: 'right', len: 4 }] }, true);

const buildF = () => cfg(FF, [
  line(F_NOM, GREEN),
  line(F_REAL, BLUE),
  line(F_INFL, RED),
], {
  x: xAx(FF, -97, 3085, T_TICKS, thousands),
  y: yAx(FF, 'left', -0.1, 0.4, F_Y_TICKS, dec),
}, { marks: boxMarks('x', 'y') }, false);

const buildG = () => cfg(FG, [
  line(G_EFF, GREEN, 'y', { cubicInterpolationMode: 'monotone' }),
  line(G_WTD, BLUE, 'y', { cubicInterpolationMode: 'monotone' }),
  line(G_AVG, RED, 'y', { cubicInterpolationMode: 'monotone' }),
], {
  x: xAx(FG, -97, 3089, T_TICKS, thousands),
  y: yAx(FG, 'left', 0.3, 0.9, G_Y_TICKS, dec),
}, { marks: boxMarks('x', 'y') }, false);

const buildH = () => cfg(FH, [scatterPath(H_FRAG, '#f4b3b3')], {
  x: xAx(FH, 0.3, 1.1, H_X_TICKS, dec, { text: 'Potential output (volume)', pb: 1.4 }),
  y: yAx(FH, 'left', 0, 11, H_Y_TICKS, dec, { text: 'Financial fragility', pt: 0 }),
}, { marks: boxMarks('x', 'y') }, false);

const buildI = () => {
  const f = FI;
  return {
    type: 'bar',
    data: {
      datasets: [
        { type: 'bar', data: I_LAGS.map((x, i) => ({ x, y: I_CCF[i] })), backgroundColor: '#000', borderWidth: 0, barThickness: 1.6, order: 1 },
        { type: 'line', data: P([[-13, 0], [13, 0]]), borderColor: '#000', borderWidth: 1, pointRadius: 0, order: 2 },
        { type: 'line', data: P([[-13, I_CI], [13, I_CI]]), borderColor: '#2020ff', borderWidth: 1.4, borderDash: [7, 5], pointRadius: 0, order: 0 },
        { type: 'line', data: P([[-13, -I_CI], [13, -I_CI]]), borderColor: '#2020ff', borderWidth: 1.4, borderDash: [7, 5], pointRadius: 0, order: 0 },
      ],
    },
    options: {
      animation: false, responsive: false, events: [],
      layout: { padding: { top: f.pt, left: 0, right: f.rw, bottom: 0 } },
      plugins: { legend: { display: false }, tooltip: { enabled: false } },
      scales: {
        x: {
          type: 'linear', min: -12.96, max: 12.96, offset: false,
          grid: { display: false, drawTicks: false }, border: { display: false },
          ticks: { font: { family: SANS, size: 15 }, color: '#000', padding: 22, maxRotation: 0, autoSkip: false, callback: (v: number) => String(v) },
          afterBuildTicks: (s: any) => { s.ticks = I_X_TICKS.map((value) => ({ value })); },
          afterFit: (s: any) => { s.height = f.bh; },
          title: { display: true, text: 'Lag', font: { family: SANS, size: 15 }, color: '#000', padding: { top: 0, bottom: 2 } },
        },
        y: {
          type: 'linear', min: -0.0736, max: 0.5096,
          grid: { display: false, drawTicks: false }, border: { display: false },
          ticks: { display: false },
          afterBuildTicks: (s: any) => { s.ticks = I_Y_TICKS.map((value) => ({ value })); },
          afterFit: (s: any) => { s.width = f.lw; },
        },
      },
    },
    plugins: [framePlugin({
      lw: 1,
      marks: [{ scale: 'x', side: 'bottom', len: 7, out: true, values: I_X_TICKS }, { scale: 'y', side: 'left', len: 7, out: true, values: I_Y_TICKS }],
      rot: { scale: 'y', values: I_Y_LABELS, labels: I_Y_LABELS.map((v) => v.toFixed(1)), offset: 27.5, font: `15px ${SANS}`, color: '#000' },
    })],
  };
};

// ---------- components ----------
function ChartCanvas({ f, build }: { f: Fr; build: () => any }) {
  const ref = useRef<HTMLCanvasElement>(null);
  const b = boxOf(f);
  useEffect(() => {
    const c = new Chart(ref.current as HTMLCanvasElement, build() as any);
    return () => c.destroy();
  }, []);
  return <canvas ref={ref} width={b.w} height={b.h} style={{ position: 'absolute', left: b.l, top: b.t, width: b.w, height: b.h }} />;
}

function Legend({ l, t, w, rows, center = true, rowH = 13, fs = 11.8 }: any) {
  return (
    <div style={{ position: 'absolute', left: l, top: t, width: w, border: '1px solid #000', background: '#fff', padding: '1px 2px', boxSizing: 'border-box', fontFamily: SERIF, fontSize: fs, lineHeight: `${rowH}px`, color: '#000' }}>
      {rows.map((r: any, i: number) => (
        <div key={i} style={{ position: 'relative', height: rowH, paddingLeft: 20, whiteSpace: 'nowrap', textAlign: center ? 'center' : 'left' }}>
          <div style={{ position: 'absolute', left: 0, top: Math.floor(rowH / 2), width: 18, height: 0, borderTop: `1px solid ${r.color}` }} />
          {r.label}
        </div>
      ))}
    </div>
  );
}

function Caption({ cx, cy, children }: any) {
  return (
    <div style={{ position: 'absolute', left: cx - 300, width: 600, top: cy - 13, textAlign: 'center', fontFamily: SERIF, fontSize: 22, lineHeight: '22px', letterSpacing: '1px', whiteSpace: 'nowrap', color: '#000' }}>{children}</div>
  );
}

export default function App() {
  const small: any = { position: 'absolute', fontFamily: SERIF, fontSize: 10, color: TXT, whiteSpace: 'nowrap' };
  return (
    <div style={{ position: 'absolute', left: 0, top: 0, width: 1113, height: 1605, overflow: 'hidden', background: '#fff' }}>
      <ChartCanvas f={FA} build={buildA} />
      <ChartCanvas f={FB} build={buildB} />
      <ChartCanvas f={FC} build={buildC} />
      <ChartCanvas f={FD} build={buildD} />
      <ChartCanvas f={FE} build={buildE} />
      <ChartCanvas f={FF} build={buildF} />
      <ChartCanvas f={FG} build={buildG} />
      <ChartCanvas f={FH} build={buildH} />
      <ChartCanvas f={FI} build={buildI} />

      <Legend l={41} t={15} w={96} rowH={13} fs={11.2} center={false} rows={[{ color: RED, label: 'Unemployment' }]} />
      <Legend l={388} t={15} w={98} rowH={13} fs={11.2} center={false} rows={[{ color: BLUE, label: 'Output growth' }]} />
      <Legend l={995} t={171} w={106} rowH={13} rows={[{ color: BLUE, label: 'Capacity' }, { color: RED, label: 'Labour demand' }, { color: GREEN, label: 'Labour supply' }]} />
      <Legend l={32} t={640} w={112} rowH={13} fs={11.2} center={false} rows={[{ color: RED, label: 'Bankruptcies rate' }]} />
      <Legend l={343} t={640} w={142} rowH={13} fs={11.2} center={false} rows={[{ color: BLUE, label: 'Potential output growth' }]} />
      <Legend l={1007} t={632} w={97} rowH={14} rows={[{ color: GREEN, label: <span><i>i</i> (nominal)</span> }, { color: BLUE, label: <span><i>r</i> (real)</span> }, { color: RED, label: 'Price inflation' }]} />
      <Legend l={240} t={946} w={274} rowH={14} rows={[{ color: GREEN, label: 'Total debt to total assets (effective)' }, { color: BLUE, label: 'Target debt ratios (average, weightened by assets)' }, { color: RED, label: 'Target debt ratios (simple average)' }]} />

      <div style={{ ...small, left: 20, top: 616 }}>{'\u00b710\u207b\u00b2'}</div>
      <div style={{ ...small, left: 1046, top: 1166 }}>{'\u00b710\u2077'}</div>

      <Caption cx={268} cy={276}>(a) GDP growth and unemployment</Caption>
      <Caption cx={853} cy={276}>(b) Labor market</Caption>
      <Caption cx={284} cy={591}>(c) Phillips curve</Caption>
      <Caption cx={873} cy={591}>(d) Beveridge curve</Caption>
      <Caption cx={268} cy={904}>(e) Bankruptcies</Caption>
      <Caption cx={853} cy={904}>(f) Inflation and interest rates</Caption>
      <Caption cx={268} cy={1220}>(g) Firms{'\u2019'} debt ratios</Caption>
      <Caption cx={869} cy={1220}>(h) Financial fragility</Caption>

      <div style={{ position: 'absolute', left: 258, top: 1564 - 13, width: 610, textAlign: 'justify', textAlignLast: 'justify', fontFamily: SERIF, fontSize: 22, lineHeight: '22px', letterSpacing: '1px', color: '#000' } as any}>
        (i) Cross-correlation between debt ratios of firms in <i>t</i> + <i>k</i>, <i>k</i> =
      </div>
      <div style={{ position: 'absolute', left: 258, top: 1589 - 13, fontFamily: SERIF, fontSize: 22, lineHeight: '22px', letterSpacing: '1px', whiteSpace: 'nowrap', color: '#000' }}>
        {'\u2212'}12, ..., 0, ...12 and GDP in <i>t</i> (detrended series)
      </div>
    </div>
  );
}
